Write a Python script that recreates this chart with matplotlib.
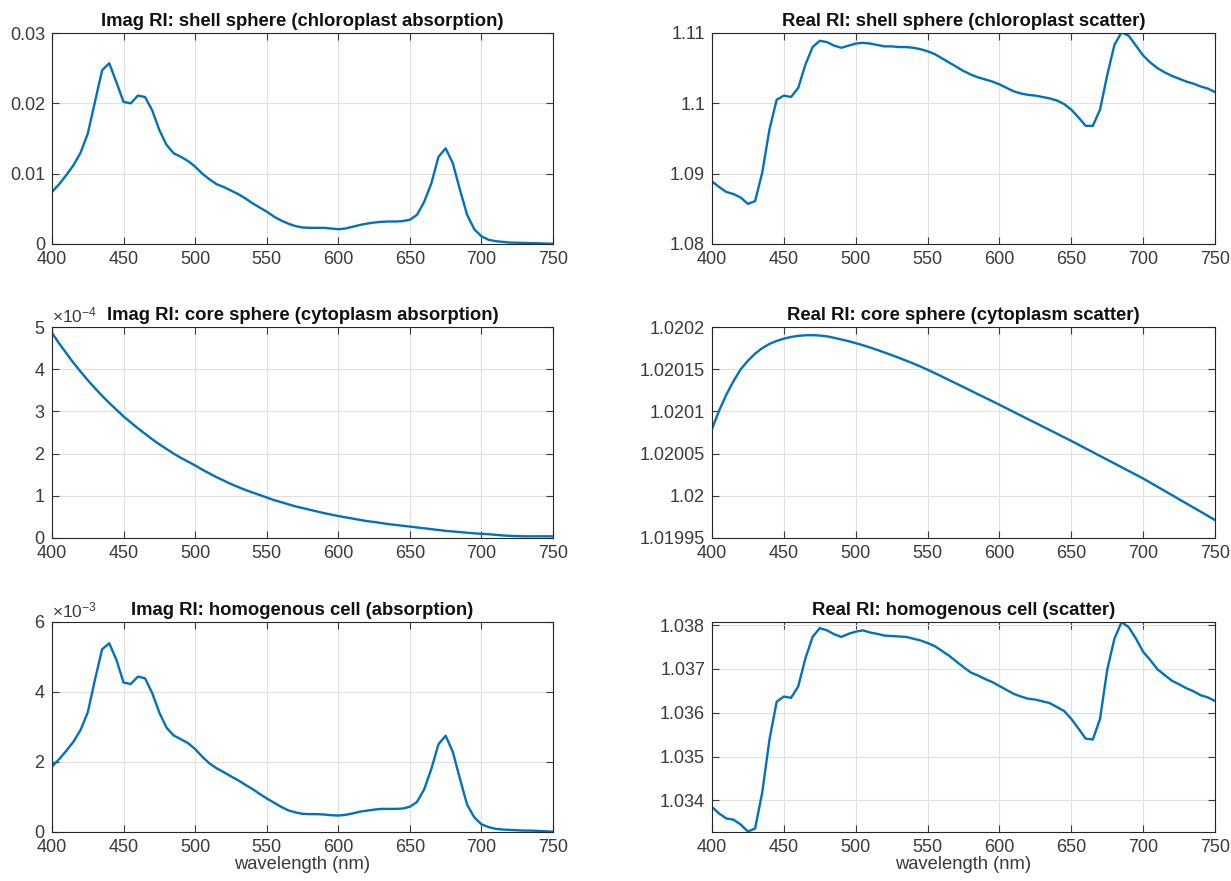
import numpy as np
import matplotlib
matplotlib.use('Agg')
import matplotlib.pyplot as plt
from matplotlib.ticker import FuncFormatter, ScalarFormatter, MultipleLocator

plt.rcParams['font.family'] = ['Liberation Sans', 'DejaVu Sans']
plt.rcParams['mathtext.fontset'] = 'custom'
plt.rcParams['mathtext.rm'] = 'Liberation Sans'

# wavelength grid (nm), 5 nm steps
wavelength = list(range(400, 751, 5))

# imaginary RI, shell sphere (chloroplast), units of 1e-3
shell_imag = [7.4, 8.5, 9.8, 11.2, 13.0, 15.7, 20.2, 24.7, 25.7, 23.0,
              20.2, 20.0, 21.1, 20.9, 19.0, 16.2, 14.1, 12.9, 12.4, 11.8,
              11.0, 10.0, 9.2, 8.5, 8.1, 7.6, 7.1, 6.5, 5.8, 5.2,
              4.6, 3.9, 3.35, 2.9, 2.55, 2.35, 2.3, 2.3, 2.3, 2.2,
              2.1, 2.2, 2.45, 2.7, 2.9, 3.05, 3.15, 3.2, 3.2, 3.25,
              3.45, 4.15, 6.0, 8.6, 12.4, 13.6, 11.5, 7.7, 4.15, 2.1,
              1.1, 0.6, 0.4, 0.3, 0.2, 0.18, 0.15, 0.12, 0.1, 0.06, 0.03]

# real RI, shell sphere
shell_real = [1.0889, 1.0881, 1.0874, 1.0871, 1.0866, 1.0857, 1.0861, 1.0902, 1.0963, 1.1005,
              1.1011, 1.1009, 1.1022, 1.1055, 1.1080, 1.1089, 1.1087, 1.1082, 1.1079, 1.1082,
              1.1085, 1.1086, 1.1085, 1.1083, 1.1081, 1.1081, 1.1080, 1.1080, 1.1079, 1.1077,
              1.1074, 1.1070, 1.1064, 1.1058, 1.1052, 1.1046, 1.1041, 1.1037, 1.1034, 1.1031,
              1.1027, 1.1022, 1.1017, 1.1014, 1.1012, 1.1011, 1.1009, 1.1007, 1.1004, 1.0999,
              1.0991, 1.0980, 1.0968, 1.0968, 1.0991, 1.1040, 1.1083, 1.1101, 1.1096, 1.1082,
              1.1068, 1.1058, 1.1050, 1.1044, 1.1039, 1.1035, 1.1031, 1.1028, 1.1024, 1.1021, 1.1016]

# imaginary RI, core sphere (cytoplasm), units of 1e-4
core_imag = [4.86, 4.61, 4.38, 4.15, 3.94, 3.74, 3.55, 3.37, 3.20, 3.04,
             2.88, 2.74, 2.60, 2.47, 2.34, 2.22, 2.11, 2.00, 1.90, 1.81,
             1.72, 1.62, 1.53, 1.44, 1.36, 1.28, 1.21, 1.14, 1.08, 1.02,
             0.96, 0.90, 0.85, 0.80, 0.75, 0.71, 0.67, 0.63, 0.59, 0.555,
             0.52, 0.49, 0.46, 0.43, 0.40, 0.38, 0.355, 0.33, 0.31, 0.29,
             0.27, 0.25, 0.23, 0.21, 0.19, 0.17, 0.155, 0.14, 0.125, 0.11,
             0.10, 0.09, 0.075, 0.06, 0.05, 0.045, 0.04, 0.04, 0.04, 0.04, 0.04]

# real RI, core sphere: offset above 1.02 in units of 1e-5
core_real = [7.94, 10.1, 12.0, 13.6, 15.0, 16.0, 16.85, 17.5, 18.0, 18.35,
             18.62, 18.82, 18.95, 19.02, 19.03, 18.99, 18.89, 18.72, 18.52, 18.32,
             18.09, 17.84, 17.57, 17.28, 16.98, 16.67, 16.35, 16.02, 15.68, 15.32,
             14.94, 14.54, 14.13, 13.71, 13.30, 12.88, 12.46, 12.04, 11.63, 11.21,
             10.79, 10.36, 9.93, 9.50, 9.07, 8.65, 8.22, 7.79, 7.36, 6.93,
             6.50, 6.06, 5.61, 5.17, 4.72, 4.28, 3.83, 3.39, 2.94, 2.50,
             2.05, 1.56, 1.07, 0.58, 0.09, -0.41, -0.90, -1.39, -1.88, -2.38, -2.87]

# imaginary RI, homogenous cell, units of 1e-3
homog_imag = [1.87, 2.08, 2.32, 2.58, 2.92, 3.42, 4.35, 5.22, 5.39, 4.92,
              4.27, 4.23, 4.44, 4.39, 3.97, 3.41, 2.98, 2.76, 2.65, 2.54,
              2.37, 2.15, 1.96, 1.82, 1.71, 1.59, 1.48, 1.35, 1.23, 1.09,
              0.96, 0.84, 0.72, 0.62, 0.56, 0.52, 0.51, 0.51, 0.50, 0.48,
              0.47, 0.49, 0.53, 0.58, 0.61, 0.64, 0.66, 0.66, 0.66, 0.67,
              0.72, 0.86, 1.22, 1.80, 2.51, 2.75, 2.29, 1.52, 0.78, 0.42,
              0.22, 0.14, 0.09, 0.07, 0.06, 0.05, 0.04, 0.04, 0.03, 0.02, 0.01]

# real RI, homogenous cell
homog_real = [1.03385, 1.03370, 1.03359, 1.03356, 1.03345, 1.03329, 1.03336, 1.03419, 1.03539, 1.03625,
              1.03637, 1.03634, 1.03660, 1.03724, 1.03773, 1.03793, 1.03788, 1.03779, 1.03773, 1.03780,
              1.03785, 1.03788, 1.03783, 1.03780, 1.03776, 1.03775, 1.03774, 1.03773, 1.03769, 1.03765,
              1.03759, 1.03752, 1.03741, 1.03730, 1.03717, 1.03704, 1.03692, 1.03685, 1.03677, 1.03670,
              1.03661, 1.03652, 1.03643, 1.03637, 1.03632, 1.03630, 1.03626, 1.03622, 1.03613, 1.03604,
              1.03586, 1.03564, 1.03541, 1.03539, 1.03586, 1.03698, 1.03769, 1.03807, 1.03795, 1.03769,
              1.03739, 1.03720, 1.03699, 1.03686, 1.03673, 1.03665, 1.03656, 1.03649, 1.03640, 1.03635, 1.03627]

titles = ['Imag RI: shell sphere (chloroplast absorption)',
          'Real RI: shell sphere (chloroplast scatter)',
          'Imag RI: core sphere (cytoplasm absorption)',
          'Real RI: core sphere (cytoplasm scatter)',
          'Imag RI: homogenous cell (absorption)',
          'Real RI: homogenous cell (scatter)']

series = [np.array(shell_imag) * 1e-3,
          np.array(shell_real),
          np.array(core_imag) * 1e-4,
          1.02 + np.array(core_real) * 1e-5,
          np.array(homog_imag) * 1e-3,
          np.array(homog_real)]

ylims = [(0, 0.03), (1.08, 1.11), (0, 5e-4), (1.01995, 1.0202), (0, 6e-3), (1.03328, 1.03807)]
ysteps = [0.01, 0.01, 1e-4, 5e-5, 2e-3, 1e-3]
sci = [False, False, True, False, True, False]

W, H = 1231, 881
fig = plt.figure(figsize=(W / 100, H / 100), dpi=100)
lefts = [52, 712]
rights = [553, 1215]
tops = [33, 327, 622]
bottoms = [244, 538, 832]

text_col = '#3a3a3a'
for i in range(6):
    r, c = divmod(i, 2)
    ax = fig.add_axes([lefts[c] / W, 1 - bottoms[r] / H,
                       (rights[c] - lefts[c]) / W, (bottoms[r] - tops[r]) / H])
    ax.plot(wavelength, series[i], color='#0072BD', lw=1.7)
    ax.set_xlim(400, 750)
    ax.set_ylim(*ylims[i])
    ax.xaxis.set_major_locator(MultipleLocator(50))
    ax.yaxis.set_major_locator(MultipleLocator(ysteps[i]))
    if sci[i]:
        fmt = ScalarFormatter(useMathText=True)
        fmt.set_powerlimits((0, 0))
        ax.yaxis.set_major_formatter(fmt)
        ax.yaxis.get_offset_text().set_fontsize(12.5)
        ax.yaxis.get_offset_text().set_color(text_col)
    else:
        ax.yaxis.set_major_formatter(FuncFormatter(lambda v, p: '{:.6g}'.format(round(v, 7))))
    ax.xaxis.set_major_formatter(FuncFormatter(lambda v, p: '{:g}'.format(v)))
    ax.grid(True, color='#e0e0e0', lw=0.8)
    ax.set_axisbelow(True)
    ax.tick_params(direction='in', top=True, right=True, labelsize=13,
                   colors=text_col, length=5, width=0.8, pad=5)
    for s in ax.spines.values():
        s.set_color('#262626')
        s.set_linewidth(0.8)
    ax.set_title(titles[i], fontsize=13.3, fontweight='bold', color='#111111', pad=5)
    if r == 2:
        ax.set_xlabel('wavelength (nm)', fontsize=13.2, color=text_col, labelpad=0)

plt.savefig('out.png', dpi=100)
